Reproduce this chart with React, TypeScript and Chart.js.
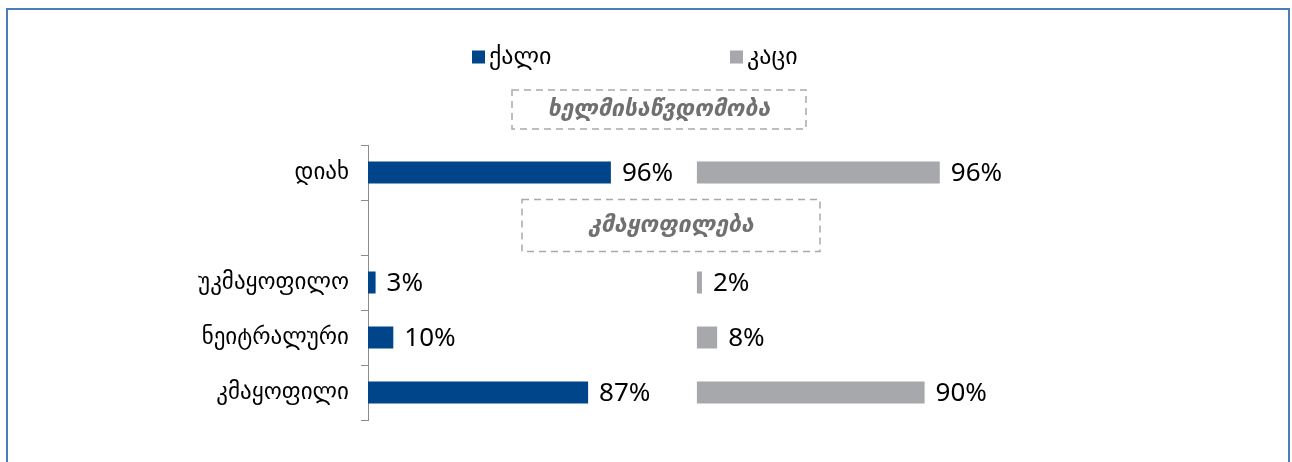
import React, { useEffect, useRef } from "react";
import { Chart, registerables } from "chart.js";

Chart.register(...registerables);

const categories = ["დიახ", "", "უკმაყოფილო", "ნეიტრალური", "კმაყოფილი"];
const femaleValues: (number | null)[] = [96, null, 3, 10, 87];
const maleValues: (number | null)[] = [96, null, 2, 8, 90];
const seriesNames = ["ქალი", "კაცი"];
const sectionTitles = ["ხელმისაწვდომობა", "კმაყოფილება"];
const MALE_OFFSET = 130;

const FEMALE_COLOR = "#00448a";
const MALE_COLOR = "#a7a8ab";
const FONT = "'Noto Sans', 'DejaVu Sans', sans-serif";

export default function App() {
  const ref = useRef<HTMLCanvasElement | null>(null);

  useEffect(() => {
    if (!ref.current) return;

    const overlay = {
      id: "overlay",
      afterDraw(chart: any) {
        const { ctx, chartArea, scales } = chart;
        const ys = scales.y;
        ctx.save();

        // legend
        const legendY = chartArea.top - 88;
        const legendItems = [
          { x: chartArea.left + 104, color: FEMALE_COLOR, text: seriesNames[0] },
          { x: chartArea.left + 362, color: MALE_COLOR, text: seriesNames[1] },
        ];
        ctx.font = `24px ${FONT}`;
        ctx.textBaseline = "middle";
        ctx.textAlign = "left";
        for (const it of legendItems) {
          ctx.fillStyle = it.color;
          ctx.fillRect(it.x, legendY - 6.5, 13, 13);
          ctx.fillStyle = "#000";
          ctx.fillText(it.text, it.x + 17, legendY);
        }

        // dashed section boxes
        const drawBox = (cx: number, cy: number, w: number, h: number, text: string) => {
          ctx.setLineDash([7, 5]);
          ctx.lineWidth = 1.5;
          ctx.strokeStyle = "#a9a9ab";
          ctx.strokeRect(cx - w / 2, cy - h / 2, w, h);
          ctx.setLineDash([]);
          ctx.fillStyle = "#707072";
          ctx.font = `italic bold 23px ${FONT}`;
          ctx.textAlign = "center";
          ctx.textBaseline = "middle";
          ctx.fillText(text, cx, cy);
        };
        drawBox(chartArea.left + 291, chartArea.top - 35.5, 294, 39, sectionTitles[0]);
        drawBox(chartArea.left + 303, ys.getPixelForValue(1) - 2, 298, 52, sectionTitles[1]);

        // data labels
        ctx.font = `26px ${FONT}`;
        ctx.textAlign = "left";
        ctx.textBaseline = "middle";
        ctx.fillStyle = "#000";
        chart.data.datasets.forEach((ds: any, di: number) => {
          const meta = chart.getDatasetMeta(di);
          meta.data.forEach((bar: any, i: number) => {
            const raw = di === 0 ? femaleValues[i] : maleValues[i];
            if (raw == null) return;
            ctx.fillText(`${raw}%`, bar.x + 11, bar.y + 1);
          });
        });
        ctx.restore();
      },
    };

    const chart = new Chart(ref.current, {
      type: "bar",
      data: {
        labels: categories,
        datasets: [
          {
            label: seriesNames[0],
            data: femaleValues as any,
            backgroundColor: FEMALE_COLOR,
          },
          {
            label: seriesNames[1],
            data: maleValues.map((v) => (v == null ? null : [MALE_OFFSET, MALE_OFFSET + v])) as any,
            backgroundColor: MALE_COLOR,
          },
        ],
      },
      options: {
        indexAxis: "y",
        animation: false,
        responsive: true,
        maintainAspectRatio: false,
        layout: { padding: { top: 135, bottom: 56, left: 0, right: 161 } },
        datasets: { bar: { categoryPercentage: 1, barPercentage: 0.4 } },
        plugins: {
          legend: { display: false },
          tooltip: { enabled: false },
        },
        scales: {
          x: { display: false, min: 0, max: 300, stacked: false },
          y: {
            stacked: true,
            afterFit: (s: any) => {
              s.width = 360;
            },
            grid: {
              display: true,
              drawOnChartArea: false,
              drawTicks: true,
              tickLength: 7,
              color: "#8c8c8c",
              offset: true,
            },
            border: { display: true, color: "#8c8c8c", width: 1 },
            ticks: {
              color: "#000",
              padding: 12,
              font: { family: FONT, size: 23 },
            },
          },
        },
      },
      plugins: [overlay],
    });
    return () => chart.destroy();
  }, []);

  return (
    <div
      style={{
        position: "fixed",
        left: 6,
        top: 8,
        width: 1284,
        height: 470,
        border: "2px solid #4a7ebb",
        boxSizing: "border-box",
        background: "#fff",
      }}
    >
      <canvas ref={ref} />
    </div>
  );
}
